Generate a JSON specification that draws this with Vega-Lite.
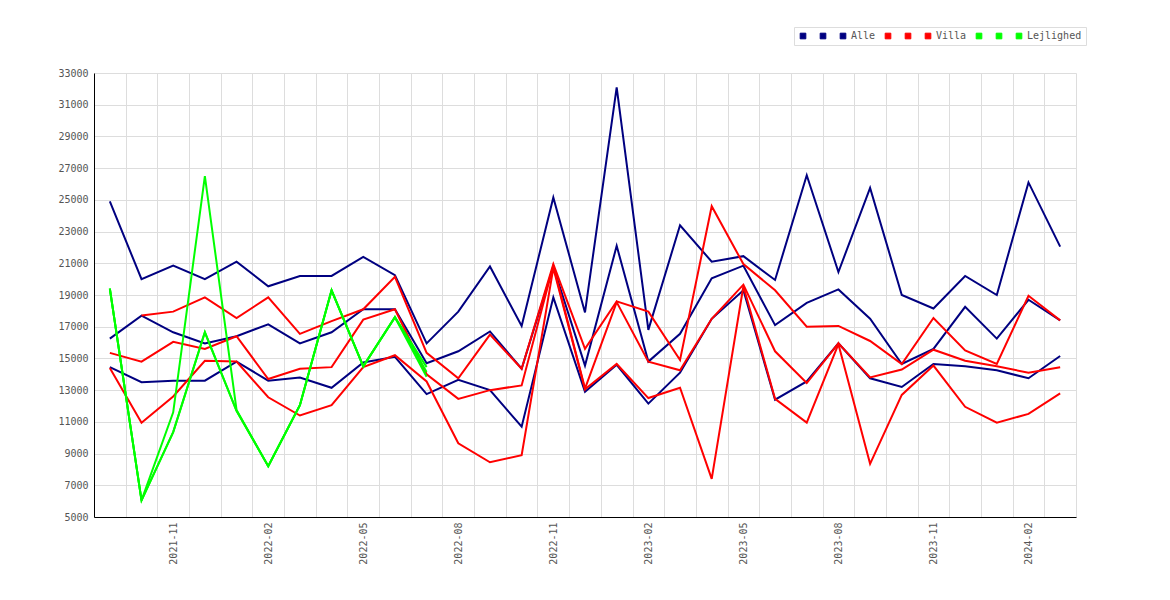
{
  "$schema": "https://vega.github.io/schema/vega-lite/v6.json",
  "width": 982,
  "height": 444,
  "autosize": "none",
  "padding": {"left": 94, "top": 73, "right": 94, "bottom": 83},
  "background": "#ffffff",
  "data": {
    "values": [
      {"m":"2021-09","s":"Alle maks","v":24900},{"m":"2021-10","s":"Alle maks","v":20000},{"m":"2021-11","s":"Alle maks","v":20850},{"m":"2021-12","s":"Alle maks","v":20000},{"m":"2022-01","s":"Alle maks","v":21100},{"m":"2022-02","s":"Alle maks","v":19550},{"m":"2022-03","s":"Alle maks","v":20200},{"m":"2022-04","s":"Alle maks","v":20200},{"m":"2022-05","s":"Alle maks","v":21400},{"m":"2022-06","s":"Alle maks","v":20250},{"m":"2022-07","s":"Alle maks","v":15950},{"m":"2022-08","s":"Alle maks","v":17950},{"m":"2022-09","s":"Alle maks","v":20800},{"m":"2022-10","s":"Alle maks","v":17050},{"m":"2022-11","s":"Alle maks","v":25150},{"m":"2022-12","s":"Alle maks","v":17900},{"m":"2023-01","s":"Alle maks","v":32100},{"m":"2023-02","s":"Alle maks","v":16800},{"m":"2023-03","s":"Alle maks","v":23400},{"m":"2023-04","s":"Alle maks","v":21100},{"m":"2023-05","s":"Alle maks","v":21450},{"m":"2023-06","s":"Alle maks","v":19950},{"m":"2023-07","s":"Alle maks","v":26550},{"m":"2023-08","s":"Alle maks","v":20450},{"m":"2023-09","s":"Alle maks","v":25750},{"m":"2023-10","s":"Alle maks","v":19000},{"m":"2023-11","s":"Alle maks","v":18150},{"m":"2023-12","s":"Alle maks","v":20200},{"m":"2024-01","s":"Alle maks","v":19000},{"m":"2024-02","s":"Alle maks","v":26100},{"m":"2024-03","s":"Alle maks","v":22050},
      {"m":"2021-09","s":"Alle median","v":16250},{"m":"2021-10","s":"Alle median","v":17700},{"m":"2021-11","s":"Alle median","v":16650},{"m":"2021-12","s":"Alle median","v":15950},{"m":"2022-01","s":"Alle median","v":16400},{"m":"2022-02","s":"Alle median","v":17150},{"m":"2022-03","s":"Alle median","v":15950},{"m":"2022-04","s":"Alle median","v":16650},{"m":"2022-05","s":"Alle median","v":18100},{"m":"2022-06","s":"Alle median","v":18100},{"m":"2022-07","s":"Alle median","v":14700},{"m":"2022-08","s":"Alle median","v":15450},{"m":"2022-09","s":"Alle median","v":16700},{"m":"2022-10","s":"Alle median","v":14350},{"m":"2022-11","s":"Alle median","v":20800},{"m":"2022-12","s":"Alle median","v":14550},{"m":"2023-01","s":"Alle median","v":22100},{"m":"2023-02","s":"Alle median","v":14800},{"m":"2023-03","s":"Alle median","v":16550},{"m":"2023-04","s":"Alle median","v":20050},{"m":"2023-05","s":"Alle median","v":20850},{"m":"2023-06","s":"Alle median","v":17100},{"m":"2023-07","s":"Alle median","v":18500},{"m":"2023-08","s":"Alle median","v":19350},{"m":"2023-09","s":"Alle median","v":17500},{"m":"2023-10","s":"Alle median","v":14650},{"m":"2023-11","s":"Alle median","v":15600},{"m":"2023-12","s":"Alle median","v":18250},{"m":"2024-01","s":"Alle median","v":16250},{"m":"2024-02","s":"Alle median","v":18700},{"m":"2024-03","s":"Alle median","v":17400},
      {"m":"2021-09","s":"Alle","v":14450},{"m":"2021-10","s":"Alle","v":13500},{"m":"2021-11","s":"Alle","v":13600},{"m":"2021-12","s":"Alle","v":13600},{"m":"2022-01","s":"Alle","v":14800},{"m":"2022-02","s":"Alle","v":13600},{"m":"2022-03","s":"Alle","v":13800},{"m":"2022-04","s":"Alle","v":13150},{"m":"2022-05","s":"Alle","v":14750},{"m":"2022-06","s":"Alle","v":15100},{"m":"2022-07","s":"Alle","v":12750},{"m":"2022-08","s":"Alle","v":13650},{"m":"2022-09","s":"Alle","v":13000},{"m":"2022-10","s":"Alle","v":10700},{"m":"2022-11","s":"Alle","v":18850},{"m":"2022-12","s":"Alle","v":12900},{"m":"2023-01","s":"Alle","v":14600},{"m":"2023-02","s":"Alle","v":12150},{"m":"2023-03","s":"Alle","v":14100},{"m":"2023-04","s":"Alle","v":17500},{"m":"2023-05","s":"Alle","v":19300},{"m":"2023-06","s":"Alle","v":12400},{"m":"2023-07","s":"Alle","v":13550},{"m":"2023-08","s":"Alle","v":15950},{"m":"2023-09","s":"Alle","v":13750},{"m":"2023-10","s":"Alle","v":13200},{"m":"2023-11","s":"Alle","v":14650},{"m":"2023-12","s":"Alle","v":14500},{"m":"2024-01","s":"Alle","v":14250},{"m":"2024-02","s":"Alle","v":13750},{"m":"2024-03","s":"Alle","v":15150},
      {"m":"2021-10","s":"Villa maks","v":17700},{"m":"2021-11","s":"Villa maks","v":17950},{"m":"2021-12","s":"Villa maks","v":18850},{"m":"2022-01","s":"Villa maks","v":17550},{"m":"2022-02","s":"Villa maks","v":18850},{"m":"2022-03","s":"Villa maks","v":16550},{"m":"2022-04","s":"Villa maks","v":17350},{"m":"2022-05","s":"Villa maks","v":18100},{"m":"2022-06","s":"Villa maks","v":20150},{"m":"2022-07","s":"Villa maks","v":15350},{"m":"2022-08","s":"Villa maks","v":13750},{"m":"2022-09","s":"Villa maks","v":16500},{"m":"2022-10","s":"Villa maks","v":14350},{"m":"2022-11","s":"Villa maks","v":20950},{"m":"2022-12","s":"Villa maks","v":15600},{"m":"2023-01","s":"Villa maks","v":18600},{"m":"2023-02","s":"Villa maks","v":17950},{"m":"2023-03","s":"Villa maks","v":14900},{"m":"2023-04","s":"Villa maks","v":24600},{"m":"2023-05","s":"Villa maks","v":20950},{"m":"2023-06","s":"Villa maks","v":19300},{"m":"2023-07","s":"Villa maks","v":17000},{"m":"2023-08","s":"Villa maks","v":17050},{"m":"2023-09","s":"Villa maks","v":16100},{"m":"2023-10","s":"Villa maks","v":14650},{"m":"2023-11","s":"Villa maks","v":17550},{"m":"2023-12","s":"Villa maks","v":15500},{"m":"2024-01","s":"Villa maks","v":14650},{"m":"2024-02","s":"Villa maks","v":18950},{"m":"2024-03","s":"Villa maks","v":17400},
      {"m":"2021-09","s":"Villa median","v":15350},{"m":"2021-10","s":"Villa median","v":14800},{"m":"2021-11","s":"Villa median","v":16050},{"m":"2021-12","s":"Villa median","v":15600},{"m":"2022-01","s":"Villa median","v":16400},{"m":"2022-02","s":"Villa median","v":13700},{"m":"2022-03","s":"Villa median","v":14350},{"m":"2022-04","s":"Villa median","v":14450},{"m":"2022-05","s":"Villa median","v":17450},{"m":"2022-06","s":"Villa median","v":18100},{"m":"2022-07","s":"Villa median","v":14000},{"m":"2022-08","s":"Villa median","v":12450},{"m":"2022-09","s":"Villa median","v":13000},{"m":"2022-10","s":"Villa median","v":13300},{"m":"2022-11","s":"Villa median","v":20850},{"m":"2022-12","s":"Villa median","v":13100},{"m":"2023-01","s":"Villa median","v":18550},{"m":"2023-02","s":"Villa median","v":14800},{"m":"2023-03","s":"Villa median","v":14250},{"m":"2023-04","s":"Villa median","v":17500},{"m":"2023-05","s":"Villa median","v":19650},{"m":"2023-06","s":"Villa median","v":15450},{"m":"2023-07","s":"Villa median","v":13450},{"m":"2023-08","s":"Villa median","v":15950},{"m":"2023-09","s":"Villa median","v":13800},{"m":"2023-10","s":"Villa median","v":14300},{"m":"2023-11","s":"Villa median","v":15550},{"m":"2023-12","s":"Villa median","v":14850},{"m":"2024-01","s":"Villa median","v":14500},{"m":"2024-02","s":"Villa median","v":14100},{"m":"2024-03","s":"Villa median","v":14450},
      {"m":"2021-09","s":"Villa","v":14400},{"m":"2021-10","s":"Villa","v":10950},{"m":"2021-11","s":"Villa","v":12600},{"m":"2021-12","s":"Villa","v":14850},{"m":"2022-01","s":"Villa","v":14800},{"m":"2022-02","s":"Villa","v":12550},{"m":"2022-03","s":"Villa","v":11400},{"m":"2022-04","s":"Villa","v":12050},{"m":"2022-05","s":"Villa","v":14450},{"m":"2022-06","s":"Villa","v":15200},{"m":"2022-07","s":"Villa","v":13550},{"m":"2022-08","s":"Villa","v":9650},{"m":"2022-09","s":"Villa","v":8450},{"m":"2022-10","s":"Villa","v":8900},{"m":"2022-11","s":"Villa","v":20700},{"m":"2022-12","s":"Villa","v":13050},{"m":"2023-01","s":"Villa","v":14650},{"m":"2023-02","s":"Villa","v":12500},{"m":"2023-03","s":"Villa","v":13150},{"m":"2023-04","s":"Villa","v":7400},{"m":"2023-05","s":"Villa","v":19550},{"m":"2023-06","s":"Villa","v":12450},{"m":"2023-07","s":"Villa","v":10950},{"m":"2023-08","s":"Villa","v":15900},{"m":"2023-09","s":"Villa","v":8350},{"m":"2023-10","s":"Villa","v":12700},{"m":"2023-11","s":"Villa","v":14550},{"m":"2023-12","s":"Villa","v":11950},{"m":"2024-01","s":"Villa","v":10950},{"m":"2024-02","s":"Villa","v":11500},{"m":"2024-03","s":"Villa","v":12800},
      {"m":"2021-09","s":"Lejlighed maks","v":19400},{"m":"2021-10","s":"Lejlighed maks","v":6050},{"m":"2021-11","s":"Lejlighed maks","v":11600},{"m":"2021-12","s":"Lejlighed maks","v":26500},{"m":"2022-01","s":"Lejlighed maks","v":11750},{"m":"2022-02","s":"Lejlighed maks","v":8200},{"m":"2022-03","s":"Lejlighed maks","v":12050},{"m":"2022-04","s":"Lejlighed maks","v":19300},{"m":"2022-05","s":"Lejlighed maks","v":14500},{"m":"2022-06","s":"Lejlighed maks","v":17600},{"m":"2022-07","s":"Lejlighed maks","v":14450},
      {"m":"2021-09","s":"Lejlighed median","v":19400},{"m":"2021-10","s":"Lejlighed median","v":6050},{"m":"2021-11","s":"Lejlighed median","v":10350},{"m":"2021-12","s":"Lejlighed median","v":16650},{"m":"2022-01","s":"Lejlighed median","v":11700},{"m":"2022-02","s":"Lejlighed median","v":8200},{"m":"2022-03","s":"Lejlighed median","v":12050},{"m":"2022-04","s":"Lejlighed median","v":19300},{"m":"2022-05","s":"Lejlighed median","v":14500},{"m":"2022-06","s":"Lejlighed median","v":17600},{"m":"2022-07","s":"Lejlighed median","v":14150},
      {"m":"2021-09","s":"Lejlighed","v":19400},{"m":"2021-10","s":"Lejlighed","v":6050},{"m":"2021-11","s":"Lejlighed","v":10350},{"m":"2021-12","s":"Lejlighed","v":16650},{"m":"2022-01","s":"Lejlighed","v":11700},{"m":"2022-02","s":"Lejlighed","v":8200},{"m":"2022-03","s":"Lejlighed","v":12050},{"m":"2022-04","s":"Lejlighed","v":19300},{"m":"2022-05","s":"Lejlighed","v":14500},{"m":"2022-06","s":"Lejlighed","v":17600},{"m":"2022-07","s":"Lejlighed","v":13850}
    ]
  },
  "mark": {"type": "line", "strokeWidth": 2, "interpolate": "linear"},
  "encoding": {
    "x": {
      "field": "m",
      "type": "ordinal",
      "bandPosition": 0.5,
      "scale": {"type": "band", "paddingInner": 0, "paddingOuter": 0},
      "axis": {
        "title": null,
        "tickBand": "extent",
        "ticks": false,
        "grid": true,
        "gridColor": "#dddddd",
        "domainColor": "#000000",
        "labelAngle": -90,
        "labelPadding": 5,
        "labelFont": "DejaVu Sans Mono",
        "labelFontSize": 10,
        "labelColor": "#555555",
        "labelExpr": "(substring(datum.value,5,7)=='02' || substring(datum.value,5,7)=='05' || substring(datum.value,5,7)=='08' || substring(datum.value,5,7)=='11') ? datum.value : ''"
      }
    },
    "y": {
      "field": "v",
      "type": "quantitative",
      "scale": {"domain": [5000, 33000], "nice": false, "zero": false},
      "axis": {
        "title": null,
        "values": [5000, 7000, 9000, 11000, 13000, 15000, 17000, 19000, 21000, 23000, 25000, 27000, 29000, 31000, 33000],
        "format": "d",
        "ticks": false,
        "grid": true,
        "gridColor": "#dddddd",
        "domainColor": "#000000",
        "labelPadding": 6,
        "labelFont": "DejaVu Sans Mono",
        "labelFontSize": 10,
        "labelColor": "#555555"
      }
    },
    "color": {
      "field": "s",
      "type": "nominal",
      "sort": null,
      "scale": {
        "domain": ["Alle maks", "Alle median", "Alle", "Villa maks", "Villa median", "Villa", "Lejlighed maks", "Lejlighed median", "Lejlighed"],
        "range": ["#000080", "#000080", "#000080", "#ff0000", "#ff0000", "#ff0000", "#00ff00", "#00ff00", "#00ff00"]
      },
      "legend": {
        "orient": "none",
        "legendX": 700,
        "legendY": -46,
        "direction": "horizontal",
        "columns": 9,
        "title": null,
        "symbolType": "square",
        "symbolSize": 32,
        "labelFont": "DejaVu Sans Mono",
        "labelFontSize": 10,
        "labelColor": "#555555",
        "labelOffset": 3,
        "columnPadding": 7,
        "padding": 4,
        "strokeColor": "#dddddd",
        "fillColor": "#ffffff",
        "labelExpr": "indexof(datum.label, ' ') > 0 ? ' ' : datum.label",
        "encode": {
          "symbols": {
            "update": {
              "fill": {"scale": "color", "field": "value"},
              "stroke": {"value": "#555555"},
              "strokeWidth": {"value": 1},
              "opacity": {"value": 1}
            }
          }
        }
      }
    }
  },
  "config": {
    "view": {"stroke": null},
    "axis": {"domainWidth": 1, "gridWidth": 1}
  }
}
